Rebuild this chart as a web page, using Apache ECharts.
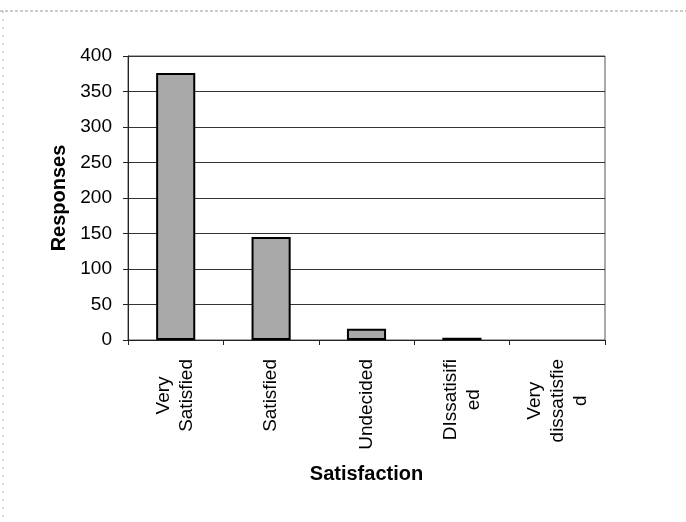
<!DOCTYPE html>
<html>
<head>
<meta charset="utf-8">
<script src="https://cdn.jsdelivr.net/npm/echarts@6/dist/echarts.min.js"></script>
<style>
  html, body { margin: 0; padding: 0; background: #ffffff; }
  #chart { width: 686px; height: 522px; }
</style>
</head>
<body>
<div id="chart"></div>
<script>
// Survey satisfaction responses
const categories = ['Very\nSatisfied', 'Satisfied', 'Undecided', 'DIssatisifi\ned', 'Very\ndissatisfie\nd'];
const responses = [376, 145, 16, 3, 0];
const yTicks = { min: 0, max: 400, step: 50 };

const chart = echarts.init(document.getElementById('chart'), null, { renderer: 'canvas' });

const font = '"Liberation Sans", Arial, sans-serif';

// empty categories get no outline, so nothing is drawn on the baseline
const barData = responses.map(function (v) {
  return v === 0 ? { value: v, itemStyle: { borderWidth: 0 } } : v;
});

chart.setOption({
  animation: false,
  backgroundColor: '#ffffff',
  graphic: [
    // outer chart-area frame
    { type: 'line', shape: { x1: 0, y1: 11, x2: 686, y2: 11 },
      style: { stroke: '#9a9a9a', lineWidth: 1, lineDash: [3, 2] }, silent: true },
    { type: 'line', shape: { x1: 3, y1: 11, x2: 3, y2: 522 },
      style: { stroke: '#b0b0b0', lineWidth: 1, lineDash: [2, 6] }, silent: true }
  ],
  grid: {
    left: 128, right: 81, top: 56, bottom: 182,
    show: true, borderColor: '#555', borderWidth: 1, backgroundColor: 'transparent'
  },
  xAxis: {
    type: 'category',
    data: categories,
    name: 'Satisfaction',
    nameLocation: 'middle',
    nameGap: 124,
    nameTextStyle: { fontFamily: font, fontSize: 20, fontWeight: 'bold', color: '#000' },
    axisLine: { show: true, lineStyle: { color: '#222', width: 1 } },
    axisTick: { show: true, length: 5, lineStyle: { color: '#222' } },
    axisLabel: {
      rotate: 90,
      margin: 19,
      interval: 0,
      // each wrapped line centred against the longest one
      formatter: function (v) {
        return v.split('\n').map(function (s) { return '{c|' + s + '}'; }).join('\n');
      },
      rich: {
        c: { align: 'center', fontFamily: font, fontSize: 19, lineHeight: 23, color: '#000' }
      }
    },
    splitLine: { show: false }
  },
  yAxis: {
    type: 'value',
    min: yTicks.min,
    max: yTicks.max,
    interval: yTicks.step,
    name: 'Responses',
    nameLocation: 'middle',
    nameRotate: 90,
    nameGap: 58,
    nameTextStyle: { fontFamily: font, fontSize: 20, fontWeight: 'bold', color: '#000' },
    axisLine: { show: true, lineStyle: { color: '#222', width: 1 } },
    axisTick: { show: true, length: 5, lineStyle: { color: '#222' } },
    axisLabel: { margin: 16, fontFamily: font, fontSize: 19, color: '#000' },
    splitLine: { show: true, lineStyle: { color: '#333', width: 1 } }
  },
  series: [{
    type: 'bar',
    data: barData,
    barWidth: '41%',
    itemStyle: { color: '#a9a9a9', borderColor: '#000', borderWidth: 2 }
  }]
});
</script>
</body>
</html>
